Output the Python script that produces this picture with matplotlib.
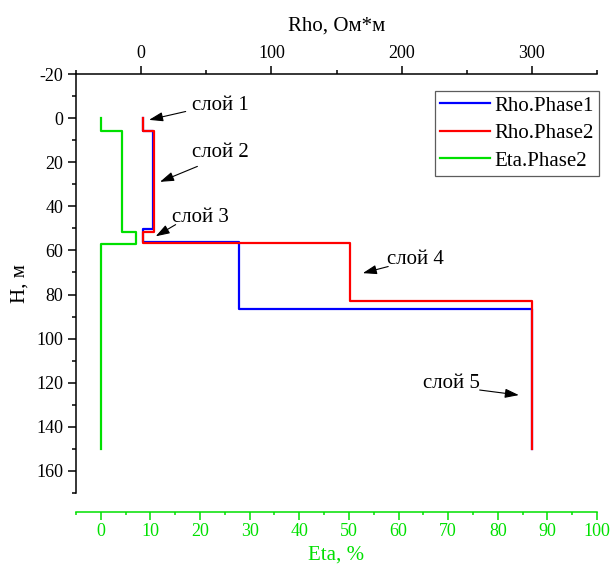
import matplotlib
matplotlib.use("Agg")
import matplotlib.pyplot as plt
from matplotlib.ticker import MultipleLocator

plt.rcParams['font.family'] = ['Liberation Serif', 'DejaVu Serif']
plt.rcParams['axes.unicode_minus'] = False

# ---- data (layer models) ----
rho1_vals = [1.5, 9.5, 1.5, 75.5, 300]
rho1_bounds = [0, 6, 50.5, 56.2, 86.7, 150]
rho2_vals = [1.5, 10.0, 1.5, 160.5, 300]
rho2_bounds = [0, 6, 51.5, 56.5, 82.8, 150]
eta2_vals = [0, 4.2, 7.0, 0]
eta2_bounds = [0, 6, 51.7, 57.0, 150]
series_names = ['Rho.Phase1', 'Rho.Phase2', 'Eta.Phase2']

layer_labels = ['слой 1', 'слой 2', 'слой 3', 'слой 4', 'слой 5']
# (text x, text y, tail x, tail y, head x, head y, ha) in Rho / H units
layer_notes = [
    (39.3, -5.8, 34.2, -3.0, 6.1, 0.8, 'left'),
    (39.3, 15.5, 43.2, 21.9, 14.5, 28.9, 'left'),
    (24.0, 44.9, 26.5, 48.3, 11.2, 53.6, 'left'),
    (189.0, 64.2, 189.7, 67.3, 170.2, 70.3, 'left'),
    (260.0, 120.5, 259.9, 123.3, 290.0, 125.6, 'right'),
]


def steps(vals, bounds):
    xs, ys = [], []
    for i, v in enumerate(vals):
        xs += [v, v]
        ys += [bounds[i], bounds[i + 1]]
    return xs, ys


GREEN = '#00e000'
fig = plt.figure(figsize=(6.1, 5.7), dpi=100)
ax = fig.add_axes([76 / 610, 1 - 493 / 570, (597 - 76) / 610, (493 - 74) / 570])
ax2 = ax.twiny()

x1, y1 = steps(rho1_vals, rho1_bounds)
x2, y2 = steps(rho2_vals, rho2_bounds)
l1, = ax.plot(x1, y1, color='#0000ff', lw=1.6, label=series_names[0])
l2, = ax.plot(x2, y2, color='#ff0000', lw=1.6, label=series_names[1])

ax.set_xlim(-50, 350)
ax.set_ylim(170, -20)
ax.xaxis.tick_top()
ax.xaxis.set_label_position('top')
ax.xaxis.set_major_locator(MultipleLocator(100))
ax.xaxis.set_minor_locator(MultipleLocator(50))
ax.yaxis.set_major_locator(MultipleLocator(20))
ax.yaxis.set_minor_locator(MultipleLocator(10))
ax.set_xlabel('Rho, Ом*м', fontsize=15, labelpad=10)
ax.set_ylabel('H, м', fontsize=15, labelpad=5)
ax.spines['right'].set_visible(False)
ax.spines['bottom'].set_visible(False)
for s in ('left', 'top'):
    ax.spines[s].set_linewidth(1.1)
ax.tick_params(axis='both', which='major', labelsize=13, length=6, width=1.1, pad=3)
ax.tick_params(axis='both', which='minor', length=3, width=1.1)
ax.tick_params(axis='x', which='both', top=True, bottom=False,
               labeltop=True, labelbottom=False)
ax.tick_params(axis='y', which='both', right=False)

xe, ye = steps(eta2_vals, eta2_bounds)
l3, = ax2.plot(xe, ye, color=GREEN, lw=1.6, label=series_names[2])
ax2.set_xlim(-5, 100)
ax2.set_ylim(170, -20)
ax2.xaxis.tick_bottom()
ax2.xaxis.set_label_position('bottom')
ax2.xaxis.set_major_locator(MultipleLocator(10))
ax2.xaxis.set_minor_locator(MultipleLocator(5))
for s in ('top', 'left', 'right'):
    ax2.spines[s].set_visible(False)
ax2.spines['bottom'].set_position(('outward', 14))
ax2.spines['bottom'].set_color(GREEN)
ax2.spines['bottom'].set_linewidth(1.1)
ax2.tick_params(axis='x', which='major', colors=GREEN, labelsize=13, length=5.5,
                width=1.1, pad=2)
ax2.tick_params(axis='x', which='minor', colors=GREEN, length=2.5, width=1.1)
ax2.tick_params(axis='x', which='both', top=False, bottom=True,
                labeltop=False, labelbottom=True)
ax2.set_xlabel('Eta, %', fontsize=15, color=GREEN, labelpad=4)

for lab, (tx, ty, ax_, ay_, hx, hy, ha) in zip(layer_labels, layer_notes):
    ax2.annotate('', xy=(hx, hy), xytext=(ax_, ay_), xycoords=ax.transData,
                 textcoords=ax.transData,
                 arrowprops=dict(arrowstyle='-|>,head_length=0.6,head_width=0.2',
                                 color='black', lw=0.8,
                                 mutation_scale=14, shrinkA=0, shrinkB=0))
    ax2.text(tx, ty, lab, transform=ax.transData, fontsize=15, ha=ha, va='center')

leg = ax2.legend(handles=[l1, l2, l3], loc='upper right', bbox_to_anchor=(1.004, 0.96),
                 borderaxespad=0, fontsize=15, frameon=True, fancybox=False,
                 edgecolor='#333333', handlelength=2.4, handletextpad=0.2,
                 labelspacing=0.38, borderpad=0.25)
leg.get_frame().set_linewidth(0.9)

fig.savefig('out.png', dpi=100)
